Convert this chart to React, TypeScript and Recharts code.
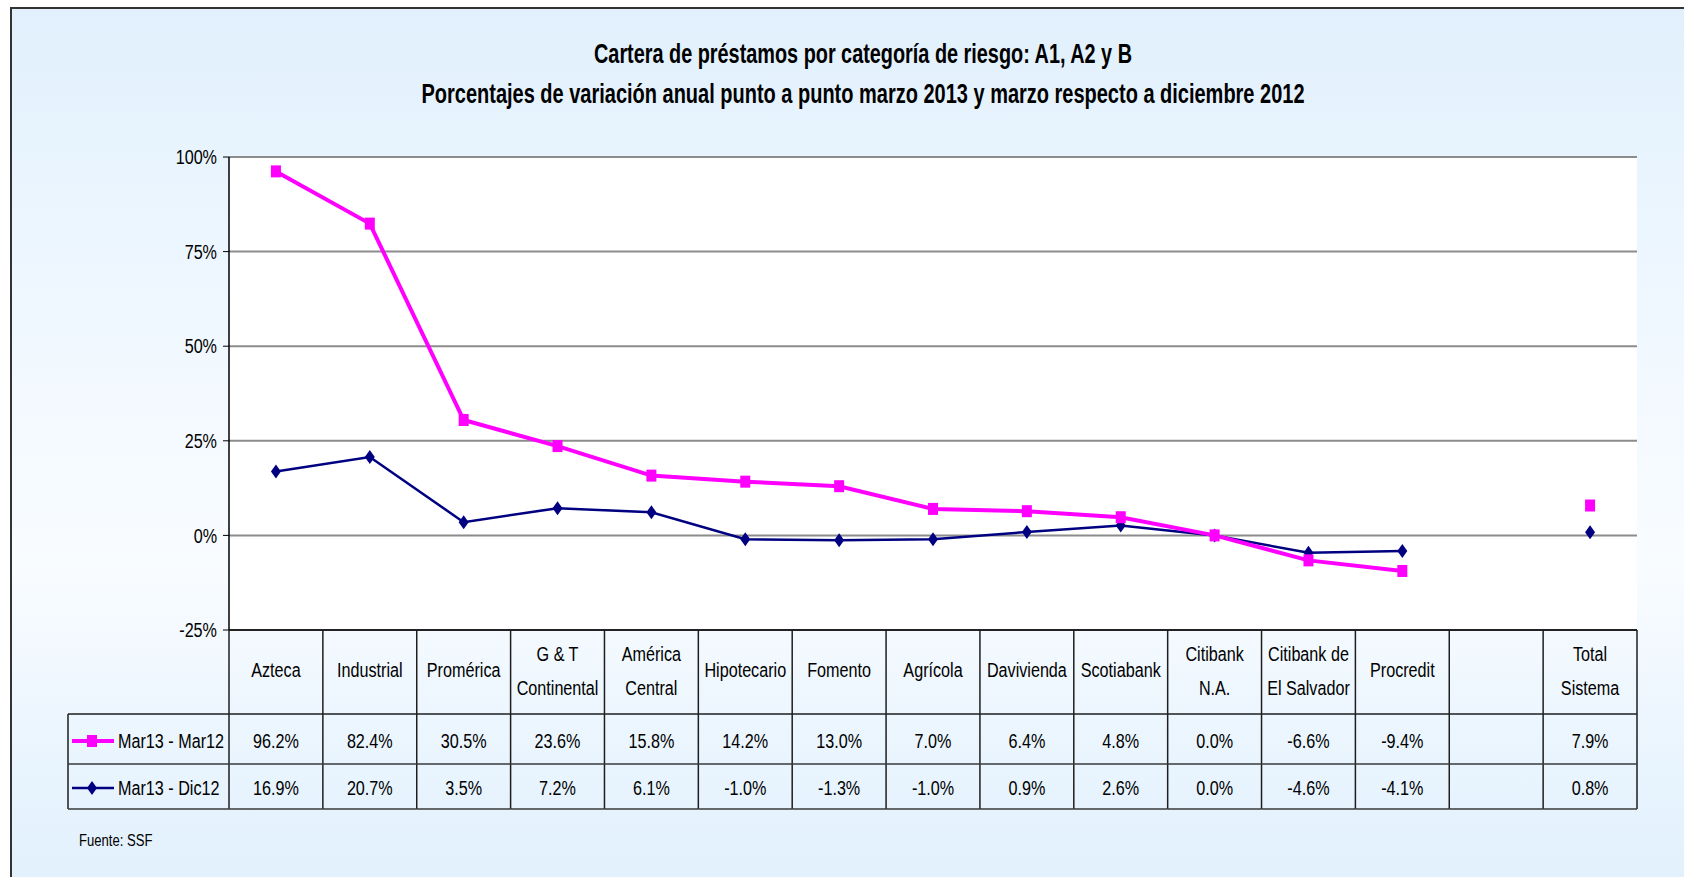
import React from 'react';
import { LineChart, Line, XAxis, YAxis, CartesianGrid } from 'recharts';

// banks (column headers of the data table), '\n' splits a header into two lines
const categories = [
  'Azteca',
  'Industrial',
  'Promérica',
  'G & T\nContinental',
  'América\nCentral',
  'Hipotecario',
  'Fomento',
  'Agrícola',
  'Davivienda',
  'Scotiabank',
  'Citibank\nN.A.',
  'Citibank de\nEl Salvador',
  'Procredit',
  '',
  'Total\nSistema',
];

const mar13Mar12 = [96.2, 82.4, 30.5, 23.6, 15.8, 14.2, 13.0, 7.0, 6.4, 4.8, 0.0, -6.6, -9.4, null, 7.9];
const mar13Dic12 = [16.9, 20.7, 3.5, 7.2, 6.1, -1.0, -1.3, -1.0, 0.9, 2.6, 0.0, -4.6, -4.1, null, 0.8];

const seriesNames = ['Mar13 - Mar12', 'Mar13 - Dic12'];
const yTicks = [-25, 0, 25, 50, 75, 100];

const titleLines = [
  'Cartera de préstamos por categoría de riesgo: A1, A2 y B',
  'Porcentajes de variación anual punto a punto marzo 2013 y marzo respecto a diciembre 2012',
];
const sourceNote = 'Fuente: SSF';

const data = categories.map((name, i) => ({
  name,
  a: mar13Mar12[i],
  b: mar13Dic12[i],
}));

const FONT = '"Liberation Sans", Arial, sans-serif';
const NARROW = 0.77; // squeeze Liberation Sans to look like the condensed face of the original
const PINK = '#ff00ff';
const NAVY = '#000080';
const LINE_COLOR = '#1e1e1e';

const W = 1684;
const H = 877;
const PLOT_LEFT = 229;
const PLOT_RIGHT = 1637;
const COL_W = (PLOT_RIGHT - PLOT_LEFT) / categories.length;
const LEGEND_W = 161;
const HEADER_H = 84;
const ROW1_H = 134;
const TABLE_H = 179;

const fmt = (v: number | null) => (v == null ? '' : `${v.toFixed(1)}%`);

// condensed text: Liberation Sans scaled horizontally
const NText = ({ x, y, anchor = 'middle', size = 21, bold = false, children }: any) => (
  <text
    transform={`translate(${x},${y}) scale(${NARROW},1)`}
    textAnchor={anchor}
    dominantBaseline="central"
    style={{ fontFamily: FONT, fontSize: size, fontWeight: bold ? 'bold' : 'normal', fill: '#000' }}
  >
    {children}
  </text>
);

const SquareDot = (p: any) => {
  if (p.cx == null || p.cy == null || p.value == null) return <g key={p.key} />;
  return <rect key={p.key} x={p.cx - 5} y={p.cy - 6} width={10} height={12} fill={PINK} />;
};

const DiamondDot = (p: any) => {
  if (p.cx == null || p.cy == null || p.value == null) return <g key={p.key} />;
  const { cx, cy } = p;
  return <path key={p.key} d={`M${cx},${cy - 7}L${cx + 5},${cy}L${cx},${cy + 7}L${cx - 5},${cy}Z`} fill={NAVY} />;
};

const PercentTick = (props: any) => {
  const { x, y, payload } = props;
  return (
    <NText x={x} y={y} anchor="end">
      {`${payload.value}%`}
    </NText>
  );
};

const TableTick = (props: any) => {
  const { x, y, payload } = props;
  const i = props.index ?? payload.index;
  const left = x - COL_W / 2;
  const right = x + COL_W / 2;
  const lines = String(payload.value).split('\n');

  return (
    <g>
      {i === 0 && <line x1={left} y1={y} x2={left} y2={y + TABLE_H} stroke={LINE_COLOR} strokeWidth={1.5} />}
      <line x1={right} y1={y} x2={right} y2={y + TABLE_H} stroke={LINE_COLOR} strokeWidth={1.5} />
      <line x1={left} y1={y + HEADER_H} x2={right} y2={y + HEADER_H} stroke={LINE_COLOR} strokeWidth={1.5} />
      <line x1={left} y1={y + ROW1_H} x2={right} y2={y + ROW1_H} stroke="#3a3a3a" strokeWidth={1.5} />
      <line x1={left} y1={y + TABLE_H} x2={right} y2={y + TABLE_H} stroke="#3a3a3a" strokeWidth={1.5} />

      {lines.length === 1 ? (
        <NText x={x} y={y + 40}>{lines[0]}</NText>
      ) : (
        lines.map((t, k) => (
          <NText key={k} x={x} y={y + 24 + k * 34}>
            {t}
          </NText>
        ))
      )}

      <NText x={x} y={y + 111}>{fmt(mar13Mar12[i])}</NText>
      <NText x={x} y={y + 158}>{fmt(mar13Dic12[i])}</NText>

      {i === 0 && (
        <g>
          <line x1={left - LEGEND_W} y1={y + HEADER_H} x2={left - LEGEND_W} y2={y + TABLE_H} stroke={LINE_COLOR} strokeWidth={1.5} />
          <line x1={left - LEGEND_W} y1={y + HEADER_H} x2={left} y2={y + HEADER_H} stroke={LINE_COLOR} strokeWidth={1.5} />
          <line x1={left - LEGEND_W} y1={y + ROW1_H} x2={left} y2={y + ROW1_H} stroke="#3a3a3a" strokeWidth={1.5} />
          <line x1={left - LEGEND_W} y1={y + TABLE_H} x2={left} y2={y + TABLE_H} stroke="#3a3a3a" strokeWidth={1.5} />

          <line x1={left - 157} y1={y + 111} x2={left - 115} y2={y + 111} stroke={PINK} strokeWidth={4} />
          <rect x={left - 142} y={y + 105} width={10} height={12} fill={PINK} />
          <NText x={left - 111} y={y + 111} anchor="start">
            {seriesNames[0]}
          </NText>

          <line x1={left - 157} y1={y + 158} x2={left - 115} y2={y + 158} stroke={NAVY} strokeWidth={2.5} />
          <path
            d={`M${left - 137},${y + 151}L${left - 132},${y + 158}L${left - 137},${y + 165}L${left - 142},${y + 158}Z`}
            fill={NAVY}
          />
          <NText x={left - 111} y={y + 158} anchor="start">
            {seriesNames[1]}
          </NText>
        </g>
      )}
    </g>
  );
};

export default function App() {
  return (
    <div style={{ position: 'absolute', left: 0, top: 0, width: W, height: H, overflow: 'hidden', background: '#fff' }}>
      <div
        style={{
          position: 'absolute',
          left: 10,
          top: 7,
          width: W,
          height: H + 20,
          border: '2px solid #333',
          background: 'linear-gradient(to bottom, #e1f0fc 0%, #eef7ff 30%, #f9fcff 62%, #e8f4fe 85%, #e1f0fc 100%)',
        }}
      />
      <svg width={W} height={H} style={{ position: 'absolute', left: 0, top: 0 }}>
        {titleLines.map((t, k) => (
          <text
            key={k}
            x={863}
            y={63 + k * 40}
            textAnchor="middle"
            textLength={k === 0 ? 538 : 883}
            lengthAdjust="spacingAndGlyphs"
            style={{ fontFamily: FONT, fontSize: 27, fontWeight: 'bold', fill: '#000' }}
          >
            {t}
          </text>
        ))}
        <NText x={79} y={840} anchor="start" size={17}>
          {sourceNote}
        </NText>
      </svg>
      <div style={{ position: 'absolute', left: 0, top: 0 }}>
        <LineChart width={W} height={H} data={data} margin={{ top: 157, right: W - PLOT_RIGHT, bottom: H - 630 - 180, left: 0 }}>
          <CartesianGrid vertical={false} stroke="#8c8c8c" strokeWidth={2} fill="#fff" fillOpacity={1} />
          <XAxis
            dataKey="name"
            scale="band"
            interval={0}
            height={180}
            tickLine={false}
            tickSize={0}
            tickMargin={0}
            axisLine={{ stroke: '#222', strokeWidth: 2 }}
            tick={TableTick}
          />
          <YAxis
            width={PLOT_LEFT}
            domain={[-25, 100]}
            ticks={yTicks}
            interval={0}
            axisLine={{ stroke: '#000', strokeWidth: 1.5 }}
            tickLine={{ stroke: '#000' }}
            tickSize={6}
            tickMargin={6}
            tick={PercentTick}
          />
          <YAxis
            yAxisId="right"
            orientation="right"
            width={0}
            domain={[-25, 100]}
            tick={false}
            tickLine={false}
            axisLine={{ stroke: '#999', strokeWidth: 2 }}
          />
          <Line
            dataKey="b"
            name={seriesNames[1]}
            type="linear"
            stroke={NAVY}
            strokeWidth={2.5}
            dot={DiamondDot}
            activeDot={false}
            connectNulls={false}
            isAnimationActive={false}
          />
          <Line
            dataKey="a"
            name={seriesNames[0]}
            type="linear"
            stroke={PINK}
            strokeWidth={4}
            dot={SquareDot}
            activeDot={false}
            connectNulls={false}
            isAnimationActive={false}
          />
        </LineChart>
      </div>
    </div>
  );
}
